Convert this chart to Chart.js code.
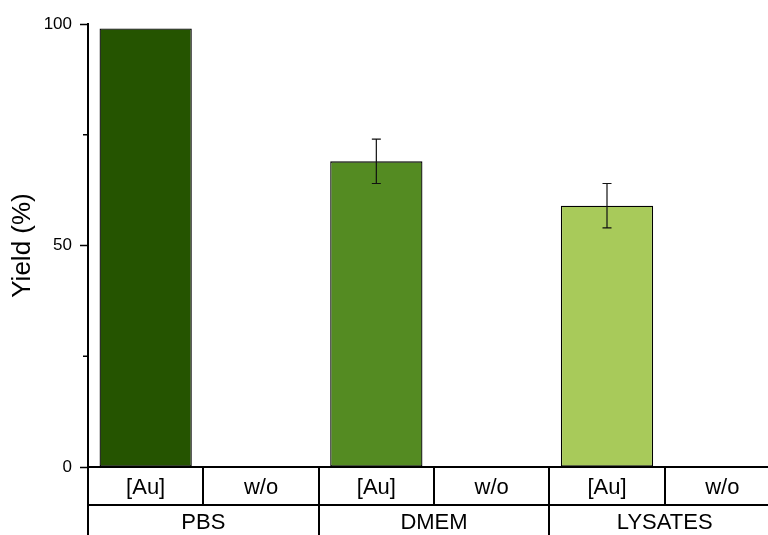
<!DOCTYPE html>
<html>
<head>
<meta charset="utf-8">
<script src="https://cdn.jsdelivr.net/npm/chart.js@4/dist/chart.umd.min.js"></script>
<style>
  html, body { margin: 0; padding: 0; background: #fff; overflow: hidden; }
  #wrap { position: relative; width: 790px; height: 535px; }
</style>
</head>
<body>
<div id="wrap"><canvas id="c"></canvas></div>
<script>
// ---- data ----
const categories = ['[Au]', 'w/o', '[Au]', 'w/o', '[Au]', 'w/o'];
const groups = ['PBS', 'DMEM', 'LYSATES'];
const yieldValues = [99, null, 69, null, 59, null];
const yieldErrors = [0, null, 5, null, 5, null];
const barColors = ['#255400', '#ffffff', '#548B22', '#ffffff', '#A8CA5A', '#ffffff'];
const yTickValues = [0, 50, 100];
const yMinorTicks = [25, 75];

const FONT = "'Liberation Sans', Arial, sans-serif";

const errorBarPlugin = {
  id: 'errorBars',
  afterDatasetsDraw(chart) {
    const ctx = chart.ctx;
    const meta = chart.getDatasetMeta(0);
    const y = chart.scales.y;
    ctx.save();
    ctx.strokeStyle = '#111';
    ctx.lineWidth = 1.2;
    yieldValues.forEach((v, i) => {
      const e = yieldErrors[i];
      if (v === null || !e) return;
      const x = meta.data[i].x;
      const yt = y.getPixelForValue(v + e);
      const yb = y.getPixelForValue(v - e);
      ctx.beginPath();
      ctx.moveTo(x, yt); ctx.lineTo(x, yb);
      ctx.moveTo(x - 4.5, yt); ctx.lineTo(x + 4.5, yt);
      ctx.moveTo(x - 4.5, yb); ctx.lineTo(x + 4.5, yb);
      ctx.stroke();
    });
    ctx.restore();
  }
};

const minorTickPlugin = {
  id: 'minorTicks',
  afterDraw(chart) {
    const ctx = chart.ctx;
    const y = chart.scales.y;
    ctx.save();
    ctx.strokeStyle = '#000';
    ctx.lineWidth = 1.5;
    yMinorTicks.forEach(v => {
      const py = y.getPixelForValue(v);
      ctx.beginPath();
      ctx.moveTo(y.right - 5, py); ctx.lineTo(y.right, py);
      ctx.stroke();
    });
    ctx.restore();
  }
};

new Chart(document.getElementById('c'), {
  type: 'bar',
  data: {
    labels: categories,
    datasets: [{
      data: yieldValues,
      backgroundColor: barColors,
      borderColor: '#000',
      borderWidth: 1.3,
      borderSkipped: false,
      barPercentage: 0.8,
      categoryPercentage: 1.0
    }]
  },
  options: {
    responsive: true,
    maintainAspectRatio: false,
    animation: false,
    events: [],
    layout: { padding: { top: 24, right: 10, bottom: 0, left: 0 } },
    plugins: { legend: { display: false }, tooltip: { enabled: false } },
    scales: {
      x: {
        position: 'bottom',
        offset: true,
        grid: { offset: true, drawOnChartArea: false, drawTicks: true, tickLength: 38, color: '#000', lineWidth: 2 },
        border: { display: true, color: '#000', width: 2 },
        ticks: { color: '#000', font: { family: FONT, size: 22 }, padding: -30, maxRotation: 0, autoSkip: false },
        afterFit: s => { s.height = 38; }
      },
      x2: {
        type: 'category',
        labels: groups,
        position: 'bottom',
        offset: true,
        grid: { offset: true, drawOnChartArea: false, drawTicks: true, tickLength: 40, color: '#000', lineWidth: 2 },
        border: { display: true, color: '#000', width: 2 },
        ticks: { color: '#000', font: { family: FONT, size: 22 }, padding: -35, maxRotation: 0, autoSkip: false },
        afterFit: s => { s.height = 30; }
      },
      y: {
        min: 0,
        max: 100,
        afterBuildTicks: s => { s.ticks = yTickValues.map(v => ({ value: v })); },
        grid: { drawOnChartArea: false, drawTicks: true, tickLength: 8, color: '#000', tickWidth: 1.5 },
        border: { display: true, color: '#000', width: 2 },
        ticks: { color: '#000', font: { family: FONT, size: 17 }, padding: 8 },
        title: { display: true, text: 'Yield (%)', color: '#000', font: { family: FONT, size: 26 }, padding: { top: 7, bottom: 0 } },
        afterFit: s => { s.width = 88; }
      }
    }
  },
  plugins: [errorBarPlugin, minorTickPlugin]
});
</script>
</body>
</html>
